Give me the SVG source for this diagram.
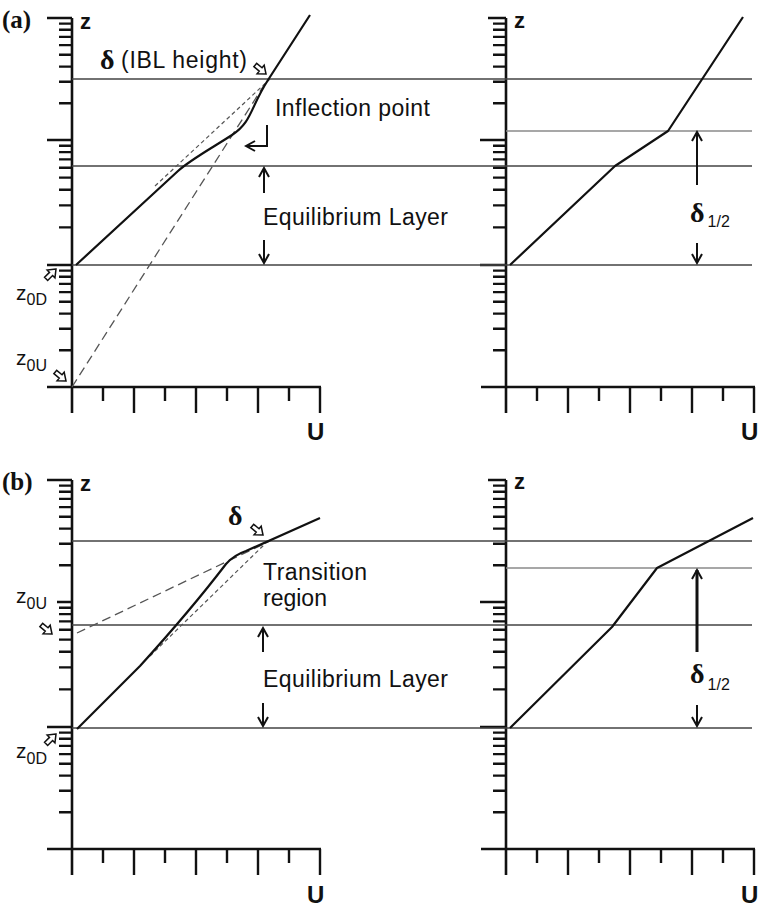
<svg xmlns="http://www.w3.org/2000/svg" width="759" height="908" viewBox="0 0 759 908">
<style>
.ax{stroke:#111;stroke-width:2.6;fill:none}
.tk{stroke:#111;stroke-width:2.4;fill:none}
.ref{stroke:#444;stroke-width:1.4;fill:none}
.ref2{stroke:#8a8a8a;stroke-width:1.4;fill:none}
.cv{stroke:#111;stroke-width:2.2;fill:none;stroke-linejoin:round}
.dl{stroke:#555;stroke-width:1.3;fill:none;stroke-dasharray:9 5}
.ds{stroke:#555;stroke-width:1.2;fill:none;stroke-dasharray:4 3}
.arr{stroke:#111;stroke-width:2;fill:none;marker-end:url(#ah)}
.ha{fill:#fff;stroke:#111;stroke-width:1.5;stroke-linejoin:miter}
.t{font-family:"Liberation Sans",Arial,sans-serif;fill:#111;font-size:23px}
.zl{font-family:"Liberation Sans",Arial,sans-serif;fill:#111;font-size:21px}
.sub{font-size:16px}
.ab{font-family:"Liberation Sans",Arial,sans-serif;fill:#111;font-weight:bold}
.pl{font-family:"Liberation Serif","Times New Roman",serif;font-weight:bold;font-size:25px;fill:#111}
.dg{font-family:"Liberation Serif","Times New Roman",serif;font-weight:bold;font-size:28px;fill:#111}
</style>
<defs>
<marker id="ah" viewBox="0 0 12 12" refX="10" refY="6" markerWidth="12" markerHeight="12" markerUnits="userSpaceOnUse" orient="auto"><path d="M1,1 L10,6 L1,11" fill="none" stroke="#111" stroke-width="2"/></marker>
<path id="ha" class="ha" d="M0,0 L-7,-5.5 L-7,-2.2 L-14,-2.2 L-14,2.2 L-7,2.2 L-7,5.5 Z"/>
<path id="yminor" class="tk" d="M59,23.6h13M59,29.8h13M59,36.9h13M59,45.1h13M59,54.7h13M59,66.6h13M59,81.8h13M59,103.3h13M59,145.7h13M59,152.1h13M59,159.4h13M59,167.7h13M59,177.6h13M59,189.7h13M59,205.4h13M59,227.4h13M59,270.6h13M59,276.8h13M59,283.9h13M59,292.1h13M59,301.7h13M59,313.6h13M59,328.8h13M59,350.3h13"/>
<path id="xticks" class="tk" d="M103,387v14M134,387v26M165,387v14M196,387v26M227,387v14M258,387v26M289,387v14M320,387v26"/>
<path id="axes" class="ax" d="M72,18V413M47,387H321"/>
</defs>

<g id="panel-a-left">
<use href="#axes"/><use href="#yminor"/><use href="#xticks"/>
<path class="tk" d="M47,18H72M47,140H72M47,265H72"/>
</g>
<g id="panel-a-right">
<use href="#axes" transform="translate(434,0)"/><use href="#yminor" transform="translate(434,0)"/><use href="#xticks" transform="translate(434,0)"/>
<path class="tk" d="M488,18H506M480,140H506M480,265H506"/>
</g>
<g id="panel-b-left">
<use href="#axes" transform="translate(0,462)"/><use href="#yminor" transform="translate(0,462)"/><use href="#xticks" transform="translate(0,462)"/>
<path class="tk" d="M47,480H72M57,602H72M47,727H72"/>
</g>
<g id="panel-b-right">
<use href="#axes" transform="translate(434,462)"/><use href="#yminor" transform="translate(434,462)"/><use href="#xticks" transform="translate(434,462)"/>
<path class="tk" d="M488,480H506M480,602H506M480,727H506"/>
</g>

<g id="reference-lines">
<path class="ref" d="M72,79H752M72,166H752M72,265H752"/>
<path class="ref2" d="M506,131H752"/>
<path class="ref" d="M72,541H752M72,625H752M72,728H752"/>
<path class="ref2" d="M506,568H752"/>
</g>

<g id="profiles">
<path class="dl" d="M72,387L268,79"/>
<path class="ds" d="M155,186L270,79"/>
<path class="cv" d="M76,265L178,171C190,160 212,148 232,135S250,108 268,80L310,15"/>
<path class="cv" d="M510,265L615,166L668,131L743,17"/>
<path class="dl" d="M77,633L270,541"/>
<path class="ds" d="M150,656L268,541"/>
<path class="cv" d="M77,729L140,666C160,644 200,598 226,564Q234,555 246,551L320,518"/>
<path class="cv" d="M510,728L612,627L657,568L753,518"/>
</g>

<g id="connectors">
<path class="arr" d="M264,193V168"/>
<path class="arr" d="M264,240V263"/>
<path class="arr" d="M267,125V146H246"/>
<path class="arr" d="M697,185V132"/>
<path class="arr" d="M697,243V263"/>
<path class="arr" d="M263,652V628"/>
<path class="arr" d="M263,703V726"/>
<path class="arr" style="stroke-width:3" d="M697,652V570"/>
<path class="arr" d="M697,705V726"/>
<use href="#ha" transform="translate(266,74) rotate(40)"/>
<use href="#ha" transform="translate(56,269) rotate(-45)"/>
<use href="#ha" transform="translate(66,381) rotate(40)"/>
<use href="#ha" transform="translate(263,535) rotate(40)"/>
<use href="#ha" transform="translate(52,634) rotate(40)"/>
<use href="#ha" transform="translate(56,734) rotate(-45)"/>
</g>

<g id="labels">
<text class="pl" x="2" y="28">(a)</text>
<text class="pl" x="2" y="490">(b)</text>
<text class="ab" x="80" y="29" font-size="22">z</text>
<text class="ab" x="514" y="28" font-size="22">z</text>
<text class="ab" x="80" y="491" font-size="22">z</text>
<text class="ab" x="514" y="489" font-size="22">z</text>
<text class="ab" x="307" y="440" font-size="24">U</text>
<text class="ab" x="741" y="440" font-size="24">U</text>
<text class="ab" x="307" y="903" font-size="24">U</text>
<text class="ab" x="741" y="903" font-size="24">U</text>
<text class="dg" x="100" y="69">δ</text>
<text class="t" x="121" y="68" font-size="21" textLength="126" lengthAdjust="spacing">(IBL height)</text>
<text class="t" x="275" y="116" textLength="155" lengthAdjust="spacing">Inflection point</text>
<text class="t" x="263" y="225" textLength="185" lengthAdjust="spacing">Equilibrium Layer</text>
<text class="zl" x="16" y="300">z<tspan class="sub" dy="5">0D</tspan></text>
<text class="zl" x="16" y="365">z<tspan class="sub" dy="6">0U</tspan></text>
<text class="dg" x="690" y="222">δ<tspan class="t sub" font-weight="normal" dx="3" dy="5">1/2</tspan></text>
<text class="dg" x="228" y="525" font-size="27">δ</text>
<text class="t" x="263" y="580" textLength="104" lengthAdjust="spacing">Transition</text>
<text class="t" x="263" y="606">region</text>
<text class="t" x="263" y="687" textLength="185" lengthAdjust="spacing">Equilibrium Layer</text>
<text class="zl" x="16" y="603">z<tspan class="sub" dy="6">0U</tspan></text>
<text class="zl" x="16" y="758">z<tspan class="sub" dy="6">0D</tspan></text>
<text class="dg" x="690" y="683">δ<tspan class="t sub" font-weight="normal" dx="3" dy="7">1/2</tspan></text>
</g>
</svg>
